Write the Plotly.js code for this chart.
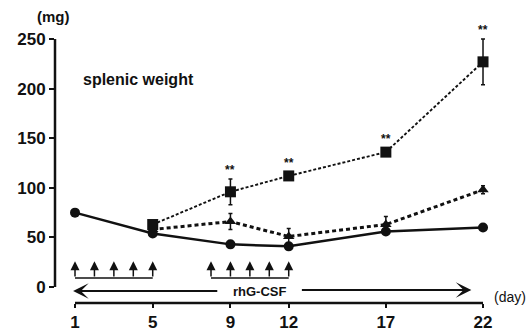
<!DOCTYPE html>
<html><head><meta charset="utf-8">
<script src="https://cdn.plot.ly/plotly-3.0.1.min.js"></script>
<style>body{margin:0;background:#fff}#c{width:529px;height:335px}</style>
</head><body><div id="c"></div>
<script>
const daysCircle = [1, 5, 9, 12, 17, 22];
const circleVals = [75, 54, 43, 41, 56, 60];
const circleErr = [2, 2, 2, 3, 3, 2];
const daysTreated = [5, 9, 12, 17, 22];
const squareVals = [63, 96, 112, 136, 227];
const squareErr = [2, 13, 4, 4, 23];
const triangleVals = [58, 66, 51, 63, 98];
const triangleErr = [2, 8, 8, 8, 4];
const starDays = [9, 12, 17, 22];
const xTicks = [1, 5, 9, 12, 17, 22];
const yTicks = [0, 50, 100, 150, 200, 250];
const doseDays1 = [1, 2, 3, 4, 5];
const doseDays2 = [8, 9, 10, 11, 12];

const FONT = 'Liberation Sans, Arial, sans-serif';
const traces = [
  {x: daysCircle, y: circleVals, type: 'scatter', mode: 'lines+markers',
   line: {color: '#111', width: 2.5}, marker: {symbol: 'circle', size: 10, color: '#111'},
   error_y: {type: 'data', array: circleErr, color: '#111', thickness: 1.5, width: 2}},
  {x: daysTreated, y: triangleVals, type: 'scatter', mode: 'lines+markers',
   line: {color: '#111', width: 3, dash: '4px,3px'}, marker: {symbol: 'triangle-up', size: 10, color: '#111'},
   error_y: {type: 'data', array: triangleErr, color: '#111', thickness: 1.5, width: 2}},
  {x: daysTreated, y: squareVals, type: 'scatter', mode: 'lines+markers',
   line: {color: '#111', width: 1.9, dash: '3px,2px'}, marker: {symbol: 'square', size: 11, color: '#111'},
   error_y: {type: 'data', array: squareErr, color: '#111', thickness: 1.5, width: 2}}
];

const shapes = [
  {type: 'line', xref: 'paper', yref: 'y', x0: 0, x1: 0, y0: 0, y1: 250, line: {color: '#111', width: 2.5}},
  {type: 'line', xref: 'x', yref: 'paper', x0: xTicks[0], x1: xTicks[xTicks.length-1], y0: 0, y1: 0, line: {color: '#111', width: 2.5}},
  {type: 'line', xref: 'x', yref: 'y', x0: doseDays1[0], x1: doseDays1[doseDays1.length-1], y0: 9, y1: 9, line: {color: '#111', width: 1.5}},
  {type: 'line', xref: 'x', yref: 'y', x0: doseDays2[0], x1: doseDays2[doseDays2.length-1], y0: 9, y1: 9, line: {color: '#111', width: 1.5}}
];

const annotations = [];
doseDays1.concat(doseDays2).forEach(d => {
  annotations.push({x: d, y: 26, ax: d, ay: 9, xref: 'x', yref: 'y', axref: 'x', ayref: 'y',
    showarrow: true, arrowhead: 2, arrowsize: 1.2, arrowwidth: 1.5, arrowcolor: '#111', text: ''});
});
annotations.push({x: 0.9, y: -4, ax: 8.4, ay: -4, xref: 'x', yref: 'y', axref: 'x', ayref: 'y',
  showarrow: true, arrowhead: 3, arrowsize: 1.3, arrowwidth: 2, arrowcolor: '#111', text: ''});
annotations.push({x: 21.4, y: -3, ax: 12.6, ay: -3, xref: 'x', yref: 'y', axref: 'x', ayref: 'y',
  showarrow: true, arrowhead: 3, arrowsize: 1.3, arrowwidth: 2, arrowcolor: '#111', text: ''});
annotations.push({x: 10.5, y: -4, xref: 'x', yref: 'y', text: 'rhG-CSF', showarrow: false,
  font: {family: FONT, size: 13, color: '#111', weight: 'bold'}});
starDays.forEach(d => {
  const i = daysTreated.indexOf(d);
  annotations.push({x: d, y: squareVals[i] + squareErr[i], xref: 'x', yref: 'y', text: '**', showarrow: false,
    yanchor: 'bottom', yshift: 0, font: {family: FONT, size: 12, color: '#111', weight: 'bold'}});
});
annotations.push({x: 1.3, xref: 'x', y: 209, yref: 'y', xanchor: 'left', yanchor: 'middle',
  text: 'splenic weight', showarrow: false, font: {family: FONT, size: 16, color: '#111', weight: 'bold'}});
annotations.push({xref: 'paper', yref: 'paper', x: -0.046, y: 1.048, xanchor: 'left', yanchor: 'middle',
  text: '(mg)', showarrow: false, font: {family: FONT, size: 15, color: '#111', weight: 'bold'}});
annotations.push({xref: 'paper', yref: 'paper', x: 1.005, y: 0.022, xanchor: 'left', yanchor: 'middle',
  text: '(day)', showarrow: false, font: {family: FONT, size: 14, color: '#111'}});

const layout = {
  width: 529, height: 335,
  margin: {l: 55, r: 39, t: 30, b: 32},
  paper_bgcolor: '#fff', plot_bgcolor: '#fff',
  showlegend: false,
  xaxis: {range: [-0.03, 22.36], tickvals: xTicks, ticktext: xTicks.map(String),
    showgrid: false, zeroline: false, showline: false,
    ticks: 'outside', ticklen: 4, tickwidth: 2, tickcolor: '#111',
    tickfont: {family: FONT, size: 17, color: '#111', weight: 'bold'}},
  yaxis: {range: [-16.1, 259.1], tickvals: yTicks, ticktext: yTicks.map(String),
    showgrid: false, zeroline: false, showline: false,
    ticks: 'outside', ticklen: 5, tickwidth: 2, tickcolor: '#111',
    tickfont: {family: FONT, size: 17, color: '#111', weight: 'bold'}},
  shapes: shapes,
  annotations: annotations
};

Plotly.newPlot('c', traces, layout, {displayModeBar: false, staticPlot: true});
</script></body></html>
